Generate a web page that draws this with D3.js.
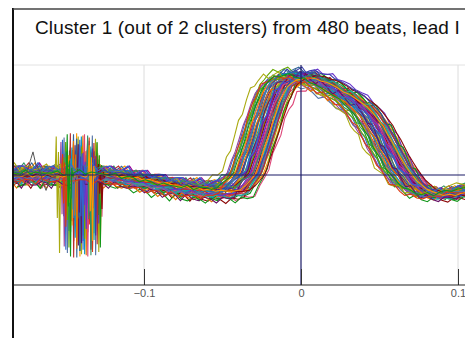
<!DOCTYPE html>
<html>
<head>
<meta charset="utf-8">
<script src="https://cdn.jsdelivr.net/npm/d3@7"></script>
<style>
  html, body { margin: 0; padding: 0; background: #fff; overflow: hidden; }
  #chart svg { display: block; font-family: "Liberation Sans", Arial, sans-serif; }
</style>
</head>
<body>
<div id="chart"></div>
<script>
// mean beat shape (seconds, mV)
const waveT = [-0.1917, -0.1834, -0.1803, -0.1771, -0.1739, -0.1707, -0.1675, -0.1643, -0.1611, -0.1580,
  -0.1548, -0.1510, -0.1471, -0.1433, -0.1369, -0.1331, -0.1293, -0.1255, -0.1217, -0.1178,
  -0.1140, -0.1102, -0.1064, -0.1025, -0.0987, -0.0949, -0.0911, -0.0873, -0.0834, -0.0796,
  -0.0758, -0.0720, -0.0682, -0.0643, -0.0605, -0.0567, -0.0529, -0.0490, -0.0452, -0.0414,
  -0.0382, -0.0350, -0.0325, -0.0299, -0.0274, -0.0248, -0.0223, -0.0197, -0.0172, -0.0146,
  -0.0121, -0.0089, -0.0057, -0.0025, 0.0006, 0.0038, 0.0070, 0.0102, 0.0134, 0.0172,
  0.0210, 0.0248, 0.0287, 0.0325, 0.0363, 0.0401, 0.0433, 0.0465, 0.0490, 0.0516,
  0.0541, 0.0567, 0.0592, 0.0618, 0.0643, 0.0675, 0.0707, 0.0739, 0.0771, 0.0809,
  0.0847, 0.0885, 0.0924, 0.0962, 0.1000, 0.1038, 0.1076, 0.1140, 0.1268];
const waveV = [-0.01, -0.01, 0.01, -0.02, 0.00, -0.02, 0.01, -0.01, 0.00, -0.02,
  0.00, -0.01, 0.00, -0.02, -0.01, 0.01, -0.01, 0.00, -0.02, -0.01,
  -0.03, -0.02, -0.05, -0.04, -0.06, -0.08, -0.07, -0.10, -0.11, -0.10,
  -0.13, -0.12, -0.14, -0.13, -0.15, -0.14, -0.15, -0.15, -0.14, -0.10,
  -0.05, 0.01, 0.11, 0.22, 0.33, 0.45, 0.56, 0.67, 0.75, 0.82,
  0.85, 0.88, 0.89, 0.90, 0.90, 0.89, 0.87, 0.86, 0.84, 0.81,
  0.77, 0.75, 0.71, 0.67, 0.63, 0.57, 0.51, 0.45, 0.38, 0.32,
  0.25, 0.18, 0.12, 0.06, 0.01, -0.05, -0.09, -0.13, -0.15, -0.17,
  -0.19, -0.18, -0.19, -0.17, -0.16, -0.15, -0.14, -0.13, -0.12];

// pacing artefact position in the mean beat
const spikeBase = -0.140;

// per-beat values
const beatShift = [-0.011, 0.004, -0.002, 0.009, -0.006, 0.001, 0.012, -0.009, 0.003, -0.004, 0.007, -0.001, 0.010, -0.007, 0.002, 0.005,
  -0.003, 0.008, -0.010, 0.000, 0.006, -0.005, 0.011, -0.008, 0.003, -0.002, 0.009, 0.001, -0.006, 0.004, -0.012, 0.007,
  -0.001, 0.010, -0.004, 0.002, 0.005, -0.009, 0.008, -0.003, 0.000, 0.006, -0.007, 0.011, 0.001, -0.005, 0.003, -0.010,
  0.009, -0.002, 0.004, 0.007, -0.015, 0.002, -0.004, 0.012, -0.001, 0.005, -0.006, 0.008, 0.000, -0.011, 0.006, -0.008];
const beatGain = [0.97, 1.02, 0.95, 1.04, 0.99, 1.01, 0.93, 1.05, 0.98, 1.00, 0.96, 1.03, 0.94, 1.02, 0.99, 1.06,
  0.97, 1.01, 0.95, 1.03, 1.00, 0.98, 0.96, 1.04, 0.99, 1.02, 0.94, 1.00, 0.97, 1.05, 0.96, 1.01,
  0.98, 1.03, 0.95, 1.00, 1.02, 0.97, 0.99, 1.04, 0.93, 1.01, 0.98, 1.02, 0.96, 1.03, 1.00, 0.97,
  0.99, 1.05, 0.95, 1.02, 0.98, 1.01, 0.96, 1.00, 1.03, 0.97, 0.99, 1.04, 0.95, 1.01, 0.98, 1.00];
const beatOffset = [0.05, -0.03, 0.08, -0.05, 0.00, 0.03, -0.08, 0.05, -0.03, 0.08, 0.00, -0.05, 0.03, -0.03, 0.05, -0.08,
  0.03, 0.00, -0.05, 0.08, -0.03, 0.05, 0.00, -0.08, 0.03, -0.05, 0.05, 0.00, 0.08, -0.03, 0.03, -0.05,
  0.00, 0.05, -0.08, 0.03, -0.03, 0.08, -0.05, 0.00, 0.05, -0.03, 0.03, -0.08, 0.08, 0.00, -0.05, 0.03,
  -0.03, 0.05, 0.00, -0.05, 0.08, -0.03, 0.03, 0.00, -0.08, 0.05, -0.03, 0.03, 0.08, -0.05, 0.00, 0.03];
const spikeHi = [0.32, 0.18, 0.38, 0.10, 0.25, 0.35, 0.14, 0.30, 0.22, 0.37, 0.08, 0.28, 0.33, 0.16, 0.36, 0.20,
  0.27, 0.12, 0.34, 0.24, 0.31, 0.06, 0.29, 0.37, 0.19, 0.33, 0.15, 0.26, 0.38, 0.11, 0.30, 0.23,
  0.35, 0.17, 0.28, 0.09, 0.32, 0.21, 0.36, 0.13, 0.27, 0.34, 0.18, 0.30, 0.07, 0.25, 0.37, 0.16,
  0.29, 0.33, 0.12, 0.26, 0.35, 0.20, 0.31, 0.10, 0.28, 0.36, 0.15, 0.24, 0.32, 0.19, 0.27, 0.22];
const spikeLo = [-0.68, -0.45, -0.74, -0.30, -0.60, -0.72, -0.38, -0.66, -0.52, -0.75, -0.28, -0.62, -0.70, -0.42, -0.73, -0.50,
  -0.64, -0.35, -0.71, -0.55, -0.67, -0.25, -0.63, -0.74, -0.48, -0.69, -0.40, -0.58, -0.75, -0.33, -0.65, -0.53,
  -0.72, -0.44, -0.61, -0.29, -0.68, -0.51, -0.73, -0.37, -0.60, -0.70, -0.46, -0.66, -0.27, -0.57, -0.74, -0.41,
  -0.63, -0.69, -0.34, -0.59, -0.71, -0.49, -0.67, -0.31, -0.62, -0.73, -0.39, -0.55, -0.68, -0.47, -0.60, -0.52];

// a single odd beat at the far left
const oddT = [-0.1834, -0.179, -0.1745, -0.172, -0.1707, -0.1688, -0.1662, -0.1643, -0.1624, -0.1599, -0.156];
const oddV = [-0.01, -0.01, 0.03, 0.15, 0.21, 0.09, 0.03, -0.07, -0.14, -0.03, -0.01];

const xTicks = [-0.1, 0, 0.1];
const yGrid = [1];
const title = "Cluster 1 (out of 2 clusters) from 480 beats, lead I";

const palette = ["#3366cc", "#dc3912", "#ff9900", "#109618", "#990099", "#0099c6", "#dd4477", "#66aa00",
  "#b82e2e", "#316395", "#994499", "#22aa99", "#aaaa11", "#6633cc", "#e67300", "#8b0707", "#651067",
  "#329262", "#5574a6", "#3b3eac"];

const width = 465, height = 338;
const plotLeft = 13, plotTop = 65, plotBottom = 285;

const svg = d3.select("#chart").append("svg")
  .attr("width", width)
  .attr("height", height);

svg.append("rect").attr("width", width).attr("height", height).attr("fill", "#fff");

const x = d3.scaleLinear().domain([-0.1, 0.1]).range([144, 458]);
const y = d3.scaleLinear().domain([-1, 1]).range([plotBottom, plotTop]);

svg.append("clipPath").attr("id", "plotClip")
  .append("rect").attr("x", plotLeft + 1).attr("y", 10).attr("width", width).attr("height", plotBottom - 10);

// grid
svg.selectAll(".vgrid").data(xTicks.filter(d => d !== 0)).enter()
  .append("line").attr("class", "vgrid")
  .attr("x1", d => x(d)).attr("x2", d => x(d))
  .attr("y1", plotTop).attr("y2", plotBottom)
  .attr("stroke", "#dcdcdc").attr("stroke-width", 1);
svg.selectAll(".hgrid").data(yGrid).enter()
  .append("line").attr("class", "hgrid")
  .attr("x1", plotLeft).attr("x2", width)
  .attr("y1", d => y(d)).attr("y2", d => y(d))
  .attr("stroke", "#e2e2e2").attr("stroke-width", 1);

// beats
const line = d3.line().x(d => x(d[0])).y(d => y(d[1]));

function beatPoints(i) {
  const s = beatShift[i], g = beatGain[i], o = beatOffset[i];
  const pts = waveT.map((t, k) => [t + s,
    waveV[k] * g + o * (t < -0.036 ? 0.9 : 0.35) + (k % 3 === 0 ? o * 0.35 : (k % 3 === 1 ? -o * 0.3 : 0))]);
  const ts = spikeBase + s;
  const spike = [[ts - 0.0016, 0.0], [ts - 0.0009, spikeHi[i]], [ts - 0.0002, spikeLo[i] * 0.55],
    [ts + 0.0005, spikeHi[i] * 0.6], [ts + 0.0012, spikeLo[i]], [ts + 0.0020, spikeHi[i] * 0.3], [ts + 0.0028, -0.02]];
  return pts.filter(p => p[0] < ts - 0.002 || p[0] > ts + 0.003).concat(spike).sort((a, b) => a[0] - b[0]);
}

const beats = svg.append("g").attr("clip-path", "url(#plotClip)");
beats.selectAll(".beat").data(d3.range(beatShift.length)).enter()
  .append("path").attr("class", "beat")
  .attr("d", i => line(beatPoints(i)))
  .attr("fill", "none")
  .attr("stroke", i => palette[i % palette.length])
  .attr("stroke-width", 1.1);

beats.append("path")
  .attr("d", line(oddT.map((t, k) => [t, oddV[k]])))
  .attr("fill", "none").attr("stroke", "#555").attr("stroke-width", 1);

// zero lines on top
svg.append("line")
  .attr("x1", x(0)).attr("x2", x(0)).attr("y1", plotTop).attr("y2", plotBottom)
  .attr("stroke", "#1a1a66").attr("stroke-width", 1.2);
svg.append("line")
  .attr("x1", plotLeft).attr("x2", width).attr("y1", y(0)).attr("y2", y(0))
  .attr("stroke", "#1a1a66").attr("stroke-width", 1.2);

// x axis
const xAxis = svg.append("g")
  .attr("transform", `translate(0,${plotBottom})`)
  .call(d3.axisBottom(x).tickValues(xTicks).tickSizeInner(-16).tickSizeOuter(0).tickPadding(4)
    .tickFormat(d => d === 0 ? "0" : d3.format(".1f")(d)));
xAxis.select(".domain").remove();
xAxis.selectAll("line").attr("stroke", "#333");
xAxis.selectAll("text").attr("fill", "#555").style("font-size", "11px")
  .style("font-family", "'Liberation Sans', Arial, sans-serif");
svg.append("line").attr("x1", plotLeft).attr("x2", width).attr("y1", plotBottom).attr("y2", plotBottom)
  .attr("stroke", "#222").attr("stroke-width", 1.2);

// frame
svg.append("line").attr("x1", plotLeft).attr("x2", plotLeft).attr("y1", 8).attr("y2", height)
  .attr("stroke", "#111").attr("stroke-width", 2);
svg.append("line").attr("x1", plotLeft).attr("x2", width).attr("y1", 9).attr("y2", 9)
  .attr("stroke", "#444").attr("stroke-width", 1.5);

// title
svg.append("text")
  .attr("x", 35).attr("y", 34)
  .attr("fill", "#111")
  .style("font-size", "19px")
  .style("letter-spacing", "0.15px")
  .text(title);
</script>
</body>
</html>
